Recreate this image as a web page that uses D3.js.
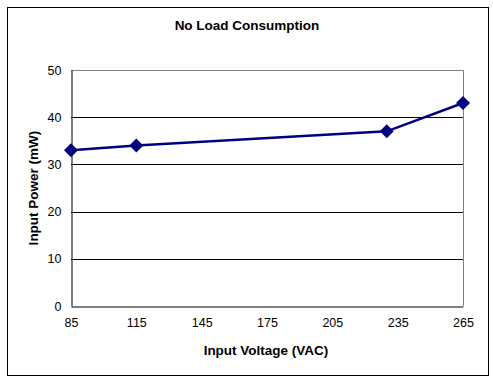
<!DOCTYPE html>
<html>
<head>
<meta charset="utf-8">
<script src="https://cdn.jsdelivr.net/npm/d3@7"></script>
<style>
  body { margin: 0; background: #fff; }
  text { font-family: "Liberation Sans", Arial, sans-serif; }
</style>
</head>
<body>
<div id="vis"></div>
<script>
var voltage = [85, 115, 230, 265];
var power = [33, 34, 37, 43];
var xTicks = [85, 115, 145, 175, 205, 235, 265];
var yTicks = [0, 10, 20, 30, 40, 50];

var width = 493;
var height = 386;
var margin = { left: 71, right: 30, top: 70, bottom: 80 };

var svg = d3.select('#vis').append('svg')
    .attr('width', width)
    .attr('height', height);

// outer frame
svg.append('rect')
    .attr('x', 7.5).attr('y', 7.5)
    .attr('width', 481).attr('height', 368)
    .attr('fill', '#fff')
    .attr('stroke', '#000')
    .attr('stroke-width', 1);

var x = d3.scaleLinear().domain([85, 265]).range([margin.left, width - margin.right]);
var y = d3.scaleLinear().domain([0, 50]).range([height - margin.bottom, margin.top]);

// gridlines
svg.append('g')
    .selectAll('line')
    .data(yTicks.filter(function (d) { return d > 0 && d < 50; }))
    .enter().append('line')
    .attr('x1', x(85)).attr('x2', x(265))
    .attr('y1', function (d) { return Math.round(y(d)) + 0.5; })
    .attr('y2', function (d) { return Math.round(y(d)) + 0.5; })
    .attr('stroke', '#000');

// plot border: top & right gray
svg.append('path')
    .attr('d', 'M' + x(85) + ',' + (Math.round(y(50)) + 0.5) + 'H' + (Math.round(x(265)) + 0.5) + 'V' + y(0))
    .attr('fill', 'none')
    .attr('stroke', '#808080');

// axes
var xAxis = svg.append('g')
    .attr('transform', 'translate(0,' + (Math.round(y(0)) + 0.5) + ')')
    .call(d3.axisBottom(x).tickValues(xTicks).tickSize(0).tickPadding(12));
var yAxis = svg.append('g')
    .attr('transform', 'translate(' + (Math.round(x(85)) + 0.5) + ',0)')
    .call(d3.axisLeft(y).tickValues(yTicks).tickSize(0).tickPadding(10));

[xAxis, yAxis].forEach(function (a) {
    a.select('.domain').attr('stroke', '#000');
    a.selectAll('text')
        .attr('font-size', 12.5)
        .attr('fill', '#000')
        .style('font-family', '"Liberation Sans", Arial, sans-serif');
});

// line
var pts = voltage.map(function (v, i) { return [v, power[i]]; });
svg.append('path')
    .datum(pts)
    .attr('d', d3.line().x(function (d) { return x(d[0]); }).y(function (d) { return y(d[1]); }))
    .attr('fill', 'none')
    .attr('stroke', '#000080')
    .attr('stroke-width', 2.5);

svg.append('g')
    .selectAll('path')
    .data(pts)
    .enter().append('path')
    .attr('d', 'M0,-7L7,0L0,7L-7,0Z')
    .attr('transform', function (d) { return 'translate(' + x(d[0]) + ',' + y(d[1]) + ')'; })
    .attr('fill', '#000080');

// titles
svg.append('text')
    .attr('x', 247).attr('y', 30)
    .attr('text-anchor', 'middle')
    .attr('font-size', 13.5).attr('font-weight', 'bold')
    .text('No Load Consumption');

svg.append('text')
    .attr('x', 266).attr('y', 355)
    .attr('text-anchor', 'middle')
    .attr('font-size', 13.5).attr('font-weight', 'bold')
    .text('Input Voltage (VAC)');

svg.append('text')
    .attr('transform', 'translate(38,188) rotate(-90)')
    .attr('text-anchor', 'middle')
    .attr('font-size', 13.5).attr('font-weight', 'bold')
    .text('Input Power (mW)');
</script>
</body>
</html>
